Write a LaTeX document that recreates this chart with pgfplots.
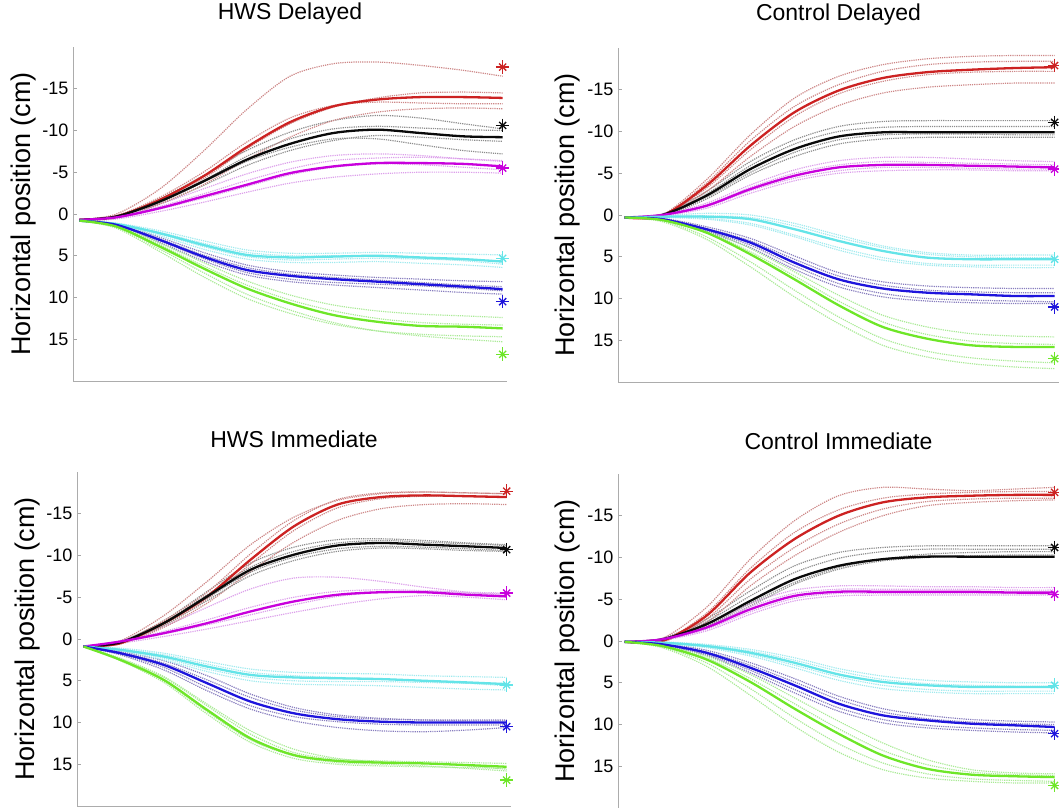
\documentclass[border=0pt]{standalone}
\usepackage{pgfplots}
\usepackage{pgfplotstable}
\pgfplotsset{compat=1.18}
\usepackage{fontspec}
\setmainfont{Liberation Sans}

\definecolor{cR}{RGB}{204,34,34}
\definecolor{cK}{RGB}{10,10,10}
\definecolor{cM}{RGB}{200,0,220}
\definecolor{cC}{RGB}{100,228,232}
\definecolor{cB}{RGB}{30,20,220}
\definecolor{cG}{RGB}{110,230,40}
\definecolor{tR}{RGB}{205,135,135}
\definecolor{tK}{RGB}{140,140,140}
\definecolor{tM}{RGB}{220,160,235}
\definecolor{tC}{RGB}{160,234,238}
\definecolor{tB}{RGB}{135,125,190}
\definecolor{tG}{RGB}{170,234,150}

% ---------- Panel 1: HWS Delayed ----------
\pgfplotstableread{
name 1.5 10 20 30 40 50 60 70 80 90 99
r0 0.7 0.3 -1.7 -4.5 -8.0 -11.0 -12.9 -13.7 -14.0 -14.0 -13.9
r1 0.7 0.0 -3.0 -7.5 -12.5 -16.5 -18.0 -18.2 -17.8 -17.2 -16.5
r2 0.7 0.3 -1.5 -4.2 -7.8 -10.8 -12.8 -13.9 -14.5 -14.6 -14.5
r3 0.8 0.5 -1.2 -3.5 -6.5 -9.2 -11.2 -12.2 -12.6 -12.7 -12.6
r4 0.7 0.2 -2.0 -5.0 -8.6 -11.5 -13.0 -13.4 -13.3 -13.2 -13.2
k0 0.7 0.3 -1.5 -3.9 -6.5 -8.4 -9.7 -10.1 -9.7 -9.3 -9.2
k1 0.7 0.2 -1.8 -4.6 -7.6 -9.8 -11.2 -11.8 -11.5 -10.8 -10.2
k2 0.8 0.4 -1.2 -3.4 -5.8 -7.6 -8.8 -9.4 -9.2 -8.9 -8.7
k3 0.7 0.3 -1.4 -3.8 -6.3 -8.0 -9.0 -9.0 -8.3 -7.6 -7.2
k4 0.7 0.3 -1.6 -4.0 -6.9 -9.0 -10.2 -10.5 -10.3 -10.1 -10.0
m0 0.7 0.4 -0.7 -2.1 -3.5 -4.9 -5.7 -6.1 -6.1 -6.0 -5.7
m1 0.7 0.2 -1.2 -3.0 -4.8 -6.2 -7.0 -7.2 -7.0 -6.6 -6.3
m2 0.8 0.6 -0.3 -1.4 -2.6 -3.7 -4.4 -4.8 -5.0 -5.0 -4.9
m3 0.7 0.5 -0.6 -1.9 -3.3 -4.7 -5.6 -6.0 -5.9 -5.6 -5.3
m4 0.7 0.3 -0.9 -2.4 -4.0 -5.4 -6.4 -6.7 -6.8 -6.6 -6.4
c0 0.8 1.2 2.3 3.7 4.9 5.2 5.1 5.0 5.2 5.4 5.7
c1 0.8 1.1 2.0 3.2 4.3 4.7 4.7 4.6 4.7 4.8 4.9
c2 0.8 1.3 2.6 4.2 5.4 5.8 5.8 5.7 5.9 6.1 6.4
c3 0.8 1.2 2.2 3.5 4.6 5.0 5.0 5.1 5.3 5.6 6.0
c4 0.8 1.2 2.4 3.9 5.1 5.5 5.4 5.3 5.4 5.5 5.6
b0 0.8 1.3 3.1 5.1 6.7 7.4 7.8 8.1 8.4 8.7 9.0
b1 0.8 1.2 2.8 4.6 6.1 6.9 7.3 7.6 7.8 8.0 8.1
b2 0.8 1.4 3.4 5.6 7.3 8.1 8.5 8.8 9.1 9.4 9.6
b3 0.8 1.3 3.0 4.9 6.4 7.2 7.6 7.9 8.2 8.5 8.7
b4 0.8 1.3 3.2 5.3 7.0 7.8 8.2 8.4 8.6 8.9 9.2
g0 0.8 1.5 3.9 6.5 8.9 10.7 12.1 12.9 13.4 13.5 13.7
g1 0.8 1.7 4.5 7.5 10.1 11.9 13.2 14.0 14.4 14.6 14.7
g2 0.8 1.4 3.5 5.8 8.0 9.7 10.9 11.6 12.0 12.2 12.4
g3 0.8 1.6 4.2 7.0 9.6 11.5 13.0 14.0 14.6 15.0 15.3
g4 0.8 1.5 3.7 6.2 8.5 10.3 11.6 12.5 13.0 13.2 13.3
}\rawA

% ---------- Panel 2: Control Delayed ----------
\pgfplotstableread{
name 1.5 10 20 30 40 50 60 70 80 90 99
r0 0.3 0.1 -3.5 -8.3 -12.3 -14.9 -16.4 -17.1 -17.4 -17.6 -17.7
r1 0.3 0.0 -4.2 -9.6 -14.0 -16.6 -18.0 -18.7 -19.0 -19.1 -19.1
r2 0.3 0.2 -2.8 -7.0 -10.6 -13.1 -14.6 -15.3 -15.6 -15.8 -15.8
r3 0.3 0.1 -3.2 -7.8 -11.8 -14.5 -16.0 -16.8 -17.1 -17.2 -17.2
r4 0.3 0.1 -3.8 -8.9 -13.0 -15.6 -17.2 -18.0 -18.3 -18.4 -18.4
k0 0.3 0.0 -2.3 -5.5 -7.9 -9.4 -9.9 -9.9 -9.9 -9.9 -9.9
k1 0.3 -0.1 -2.8 -6.4 -9.0 -10.6 -11.2 -11.3 -11.3 -11.3 -11.3
k2 0.3 0.1 -1.9 -4.8 -7.0 -8.5 -9.1 -9.3 -9.3 -9.3 -9.3
k3 0.3 0.0 -2.5 -5.9 -8.5 -10.0 -10.5 -10.6 -10.6 -10.6 -10.6
k4 0.3 0.1 -2.1 -5.1 -7.5 -9.0 -9.6 -9.7 -9.7 -9.6 -9.6
m0 0.3 0.0 -1.1 -3.1 -4.7 -5.7 -6.0 -6.0 -5.9 -5.8 -5.7
m1 0.3 -0.1 -1.4 -3.6 -5.4 -6.5 -6.9 -6.9 -6.7 -6.5 -6.4
m2 0.3 0.1 -0.8 -2.6 -4.1 -5.0 -5.3 -5.4 -5.4 -5.3 -5.3
m3 0.3 0.0 -1.2 -3.3 -5.0 -6.0 -6.4 -6.3 -6.2 -6.1 -6.0
m4 0.3 0.1 -1.0 -2.9 -4.4 -5.3 -5.7 -5.7 -5.6 -5.5 -5.5
c0 0.3 0.2 0.2 0.5 1.7 3.1 4.3 5.1 5.3 5.3 5.3
c1 0.3 0.1 -0.2 0.0 1.0 2.4 3.7 4.5 4.8 4.8 4.8
c2 0.3 0.2 0.4 1.0 2.4 3.9 5.1 5.8 6.0 6.0 6.0
c3 0.3 0.2 0.1 0.3 1.3 2.7 3.9 4.7 5.0 5.1 5.1
c4 0.3 0.3 0.5 1.2 2.6 4.2 5.4 6.0 6.2 6.3 6.3
b0 0.3 0.5 1.7 3.3 5.7 7.7 8.8 9.3 9.5 9.7 9.7
b1 0.3 0.4 1.4 2.8 4.9 6.9 8.0 8.5 8.7 8.8 8.8
b2 0.3 0.6 2.0 3.9 6.5 8.6 9.8 10.3 10.5 10.6 10.6
b3 0.3 0.5 1.6 3.1 5.3 7.3 8.4 9.0 9.2 9.3 9.3
b4 0.3 0.6 1.9 3.6 6.1 8.2 9.4 10.0 10.2 10.3 10.4
g0 0.3 0.6 2.1 4.7 7.7 10.8 13.4 14.8 15.6 15.8 15.8
g1 0.3 0.7 2.6 5.6 9.0 12.2 14.8 16.3 17.1 17.5 17.7
g2 0.3 0.5 1.8 4.0 6.8 9.6 12.0 13.4 14.2 14.5 14.6
g3 0.3 0.8 2.9 6.2 9.8 13.0 15.6 17.0 17.8 18.2 18.4
g4 0.3 0.6 2.0 4.4 7.3 10.3 12.8 14.3 15.1 15.4 15.5
}\rawB

% ---------- Panel 3: HWS Immediate ----------
\pgfplotstableread{
name 1.5 10 20 30 40 50 60 70 80 90 99
r0 0.9 0.5 -1.9 -5.1 -9.5 -13.5 -16.1 -17.0 -17.2 -17.1 -17.0
r1 0.9 0.2 -2.8 -6.9 -11.3 -14.6 -16.6 -17.4 -17.6 -17.5 -17.4
r2 0.9 0.6 -1.4 -4.3 -8.1 -11.6 -14.2 -15.6 -16.1 -16.2 -16.1
r3 0.9 0.4 -2.2 -5.6 -10.2 -14.2 -16.7 -17.5 -17.6 -17.5 -17.4
r4 0.9 0.5 -1.7 -4.8 -9.0 -13.0 -15.7 -16.8 -17.1 -17.1 -17.0
k0 0.9 0.4 -1.9 -5.1 -8.3 -10.1 -11.2 -11.5 -11.3 -11.1 -10.9
k1 0.9 0.3 -2.2 -5.7 -9.1 -11.0 -11.9 -12.0 -11.8 -11.5 -11.3
k2 0.9 0.5 -1.6 -4.6 -7.6 -9.4 -10.5 -10.9 -10.8 -10.6 -10.5
k3 0.9 0.4 -2.0 -5.3 -8.6 -10.5 -11.5 -11.8 -11.6 -11.4 -11.2
k4 0.9 0.4 -1.8 -4.9 -8.0 -9.8 -10.8 -11.1 -11.0 -10.8 -10.6
m0 0.9 0.3 -0.7 -1.9 -3.3 -4.5 -5.3 -5.6 -5.6 -5.3 -5.1
m1 0.9 0.2 -1.5 -3.8 -6.0 -7.3 -7.4 -6.9 -6.2 -5.6 -5.2
m2 0.9 0.5 -0.3 -1.2 -2.2 -3.2 -4.1 -4.8 -5.2 -5.0 -4.7
m3 0.9 0.4 -0.6 -1.7 -2.9 -4.1 -5.1 -5.6 -5.7 -5.5 -5.4
m4 0.9 0.3 -0.9 -2.3 -3.8 -5.0 -5.7 -5.9 -5.8 -5.6 -5.5
c0 0.9 1.3 2.1 3.3 4.3 4.6 4.7 4.8 5.0 5.2 5.4
c1 0.9 1.1 1.7 2.7 3.6 4.0 4.1 4.2 4.4 4.5 4.6
c2 0.9 1.4 2.5 3.9 5.0 5.4 5.5 5.6 5.8 6.0 6.1
c3 0.9 1.2 1.9 3.0 4.0 4.4 4.6 4.8 5.0 5.3 5.6
c4 0.9 1.3 2.3 3.6 4.6 5.0 5.1 5.1 5.2 5.3 5.4
b0 0.9 1.7 3.1 5.3 7.5 8.9 9.6 9.9 10.0 10.0 10.0
b1 0.9 1.5 2.6 4.4 6.6 8.2 9.1 9.5 9.7 9.8 9.8
b2 0.9 1.9 3.7 6.2 8.4 9.8 10.6 11.0 11.1 10.9 10.6
b3 0.9 1.6 2.9 4.9 7.0 8.5 9.3 9.6 9.7 9.7 9.7
b4 0.9 1.8 3.4 5.8 8.0 9.3 9.9 10.2 10.3 10.3 10.3
g0 0.9 2.5 4.9 8.5 11.9 13.9 14.6 14.8 14.9 15.1 15.3
g1 0.9 2.3 4.5 7.8 11.0 13.2 14.3 14.7 14.9 15.2 15.6
g2 0.9 2.6 5.2 9.0 12.4 14.3 15.0 15.2 15.3 15.4 15.5
g3 0.9 2.4 4.6 8.0 11.4 13.6 14.4 14.6 14.7 14.8 14.9
g4 0.9 2.5 5.0 8.7 12.1 14.0 14.8 15.0 15.2 15.5 15.8
}\rawC

% ---------- Panel 4: Control Immediate ----------
\pgfplotstableread{
name 1.5 10 20 30 40 50 60 70 80 90 99
r0 0.1 0.0 -3.0 -8.2 -12.2 -15.0 -16.6 -17.2 -17.4 -17.5 -17.5
r1 0.1 -0.3 -4.0 -9.8 -14.4 -17.4 -18.4 -18.2 -18.0 -18.2 -18.4
r2 0.1 0.1 -2.2 -6.6 -10.2 -13.0 -15.0 -16.2 -16.6 -16.8 -16.9
r3 0.1 0.0 -3.3 -8.7 -13.0 -15.7 -17.1 -17.6 -17.8 -17.9 -17.9
r4 0.1 0.1 -2.6 -7.4 -11.2 -14.0 -15.8 -16.7 -17.0 -17.1 -17.1
k0 0.1 -0.2 -2.0 -4.8 -7.4 -9.0 -9.8 -10.1 -10.1 -10.1 -10.1
k1 0.1 -0.3 -2.6 -6.0 -9.0 -10.6 -11.2 -11.4 -11.4 -11.4 -11.4
k2 0.1 -0.1 -1.7 -4.2 -6.8 -8.6 -9.6 -10.0 -10.2 -10.3 -10.3
k3 0.1 -0.2 -2.3 -5.4 -8.2 -9.9 -10.7 -11.0 -11.0 -11.0 -11.0
k4 0.1 -0.1 -1.8 -4.5 -7.0 -8.8 -9.8 -10.4 -10.6 -10.7 -10.7
m0 0.1 -0.2 -1.6 -3.8 -5.4 -5.9 -5.9 -5.9 -5.9 -5.8 -5.8
m1 0.1 -0.3 -2.0 -4.5 -6.1 -6.6 -6.6 -6.5 -6.5 -6.4 -6.4
m2 0.1 -0.1 -1.2 -3.2 -4.8 -5.4 -5.5 -5.5 -5.5 -5.5 -5.5
m3 0.1 -0.2 -1.8 -4.1 -5.7 -6.2 -6.2 -6.2 -6.2 -6.1 -6.1
m4 0.1 -0.1 -1.4 -3.5 -5.1 -5.7 -5.7 -5.7 -5.7 -5.7 -5.6
c0 0.1 0.2 0.6 1.4 2.6 4.0 4.9 5.3 5.5 5.5 5.5
c1 0.1 0.1 0.4 1.0 2.0 3.3 4.2 4.7 4.9 5.0 5.0
c2 0.1 0.3 0.8 1.8 3.2 4.7 5.7 6.1 6.3 6.3 6.3
c3 0.1 0.2 0.5 1.2 2.3 3.6 4.6 5.1 5.3 5.4 5.4
c4 0.1 0.3 0.7 1.6 2.9 4.3 5.3 5.8 6.0 6.0 6.0
b0 0.1 0.4 1.4 3.2 5.3 7.5 8.9 9.5 9.9 10.1 10.3
b1 0.1 0.3 1.1 2.6 4.5 6.6 8.1 8.9 9.4 9.6 9.7
b2 0.1 0.5 1.7 3.8 6.2 8.4 9.8 10.4 10.7 10.9 11.0
b3 0.1 0.4 1.3 2.9 4.9 7.0 8.5 9.3 9.7 9.9 10.0
b4 0.1 0.5 1.6 3.5 5.8 8.0 9.4 10.1 10.4 10.6 10.7
g0 0.1 0.6 2.2 4.9 8.1 11.1 13.7 15.3 16.0 16.2 16.3
g1 0.1 0.8 3.0 6.5 10.2 13.3 15.4 16.4 16.8 17.0 17.0
g2 0.1 0.5 1.8 4.0 6.8 9.6 12.2 14.2 15.4 15.8 15.9
g3 0.1 0.7 2.6 5.7 9.2 12.3 14.6 15.9 16.5 16.7 16.8
g4 0.1 0.6 2.0 4.5 7.5 10.5 13.1 14.8 15.7 16.0 16.1
}\rawD

\pgfplotstabletranspose[colnames from=name, input colnames to=x]{\PA}{\rawA}
\pgfplotstabletranspose[colnames from=name, input colnames to=x]{\PB}{\rawB}
\pgfplotstabletranspose[colnames from=name, input colnames to=x]{\PC}{\rawC}
\pgfplotstabletranspose[colnames from=name, input colnames to=x]{\PD}{\rawD}

\pgfplotsset{
  panel/.style={
    scale only axis, height=334pt,
    xmin=0, xmax=100, ymin=-20, ymax=20, y dir=reverse,
    axis x line*=bottom, axis y line*=left,
    xtick=\empty,
    ytick={-15,-10,-5,0,5,10,15},
    yticklabels={-15,-10,-5,0,5,10,15},
    tick align=inside, major tick length=4pt,
    tick style={gray!70, line width=0.6pt},
    axis line style={gray!65, line width=0.9pt},
    ticklabel style={font=\fontsize{18}{20}\selectfont},
    yticklabel style={xshift=-1pt},
    ylabel={Horizontal position (cm)},
    ylabel style={font=\fontsize{27}{30}\selectfont, at={(axis description cs:-0.114,0.5)}, anchor=center},
    title style={font=\fontsize{23}{26}\selectfont, at={(axis description cs:0.5,1.081)}, anchor=center},
    clip=false,
    anchor=south west,
  },
  trial/.style={densely dotted, line width=1.2pt, smooth, no markers},
  mean/.style={line width=2.3pt, smooth, no markers},
  starA/.style={only marks, mark=+, mark size=6.8pt, line width=1.3pt},
  starB/.style={only marks, mark=x, mark size=5pt, line width=1.3pt},
}

\newcommand{\panelplots}[1]{%
  \pgfplotsinvokeforeach{1,2,3,4}{%
    \addplot[trial, tR] table[x=x, y=r##1]{#1};
    \addplot[trial, tK] table[x=x, y=k##1]{#1};
    \addplot[trial, tM] table[x=x, y=m##1]{#1};
    \addplot[trial, tC] table[x=x, y=c##1]{#1};
    \addplot[trial, tB] table[x=x, y=b##1]{#1};
    \addplot[trial, tG] table[x=x, y=g##1]{#1};
  }
  \addplot[mean, cR] table[x=x, y=r0]{#1};
  \addplot[mean, cK] table[x=x, y=k0]{#1};
  \addplot[mean, cM] table[x=x, y=m0]{#1};
  \addplot[mean, cC] table[x=x, y=c0]{#1};
  \addplot[mean, cB] table[x=x, y=b0]{#1};
  \addplot[mean, cG] table[x=x, y=g0]{#1};
}
\newcommand{\stars}[6]{%
  \addplot[starA, cR] coordinates {(99,#1)};
  \addplot[starB, cR] coordinates {(99,#1)};
  \addplot[starA, cK] coordinates {(99,#2)};
  \addplot[starB, cK] coordinates {(99,#2)};
  \addplot[starA, cM] coordinates {(99,#3)};
  \addplot[starB, cM] coordinates {(99,#3)};
  \addplot[starA, cC] coordinates {(99,#4)};
  \addplot[starB, cC] coordinates {(99,#4)};
  \addplot[starA, cB] coordinates {(99,#5)};
  \addplot[starB, cB] coordinates {(99,#5)};
  \addplot[starA, cG] coordinates {(99,#6)};
  \addplot[starB, cG] coordinates {(99,#6)};
}

\begin{document}
\begin{tikzpicture}
\useasboundingbox (0,0) rectangle (1059pt,807pt);

\begin{axis}[panel, width=434pt, at={(73pt,426pt)}, title={HWS Delayed}]
\panelplots{\PA}
\stars{-17.6}{-10.6}{-5.5}{5.3}{10.5}{16.8}
\end{axis}

\begin{axis}[panel, width=441pt, at={(618pt,425pt)}, title={Control Delayed}]
\panelplots{\PB}
\stars{-17.9}{-11.1}{-5.5}{5.3}{11.0}{17.2}
\end{axis}

\begin{axis}[panel, width=434pt, at={(77pt,1pt)}, title={HWS Immediate}]
\panelplots{\PC}
\stars{-17.7}{-10.7}{-5.5}{5.5}{10.5}{16.9}
\end{axis}

\begin{axis}[panel, width=441pt, at={(618pt,-1pt)}, title={Control Immediate}]
\panelplots{\PD}
\stars{-17.8}{-11.2}{-5.6}{5.3}{11.1}{17.3}
\end{axis}
\end{tikzpicture}
\end{document}
